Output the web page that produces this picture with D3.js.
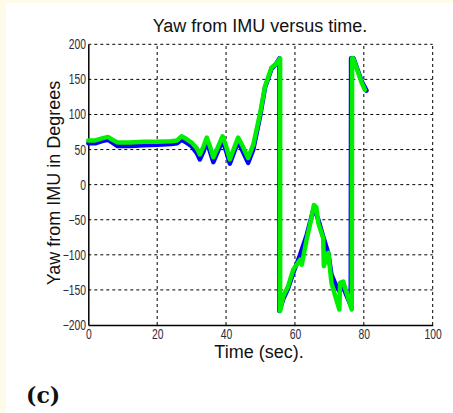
<!DOCTYPE html>
<html><head><meta charset="utf-8">
<script src="https://cdn.jsdelivr.net/npm/d3@7/dist/d3.min.js"></script>
<style>
html,body{margin:0;padding:0;background:#fffbea;}
svg{display:block;}
</style></head>
<body>
<svg id="c" width="453" height="413"></svg>
<script>
const title = "Yaw from IMU versus time.";
const xLabel = "Time (sec).";
const yLabel = "Yaw from IMU in Degrees";
const xTicks = [0, 20, 40, 60, 80, 100];
const yTicks = [-200, -150, -100, -50, 0, 50, 100, 150, 200];

const timeGreen = [0, 2, 4, 5.7, 7, 8.5, 12, 16, 20, 24, 25.8, 27.1, 28.5, 30, 31.5, 32.4, 33.5, 34.4, 35.3, 36.3, 37.5, 39, 40, 41.1, 42.3, 43.5, 44.8, 46.4, 47.9, 49.9, 51.3, 53.2, 54.5, 55.7, 55.7, 56.6, 58, 59.5, 61.5, 62, 63.4, 64.9, 65.5, 66.2, 66.8, 68.2, 68.4, 69.7, 70.6, 71.6, 72.9, 73.1, 74, 75, 76.5, 76.6, 76.9, 78.4, 79.4, 80.3];
const yawGreen = [63, 63, 66, 68, 64, 60, 60, 61, 61, 62, 63, 69, 65, 60, 52, 43, 55, 67, 55, 39, 52, 69, 55, 36, 52, 67, 55, 38, 57, 102, 140, 167, 172, 180, -180, -159, -145, -121, -107, -114, -78, -45, -29, -32, -55, -76, -116, -97, -140, -157, -178, -140, -138, -154, -178, 180, 180, 159, 145, 135];

const timeBlue = [0, 2, 4, 5.7, 7, 8.5, 12, 16, 20, 24, 25.8, 27.1, 28.5, 30, 31.5, 32.4, 33.5, 34.4, 35.3, 36.3, 37.5, 39, 40, 41.1, 42.3, 43.5, 44.8, 46.4, 47.9, 49.9, 51.3, 53.2, 54.5, 55.5, 55.5, 56.6, 58, 59.5, 61.5, 63.4, 64.9, 65.5, 66.8, 68.2, 69.7, 70.6, 71.6, 72.9, 74, 75, 76.2, 76.3, 77, 78.4, 79.4, 80.8];
const yawBlue = [59, 59, 62, 64, 60, 55, 55, 56, 57, 58, 59, 64, 60, 55, 45, 36, 48, 61, 48, 32, 46, 63, 48, 30, 46, 61, 48, 31, 50, 98, 138, 165, 172, 180, -180, -163, -148, -126, -100, -72, -44, -33, -50, -74, -98, -128, -140, -152, -146, -158, -172, 180, 180, 161, 147, 134];

const svg = d3.select("#c");
svg.append("rect").attr("x", 6).attr("y", 3).attr("width", 453).attr("height", 413).attr("fill", "#ffffff");

const L = 88.3, R = 432.7, T = 44.3, B = 325;
const x = d3.scaleLinear().domain([0, 100]).range([L, R]);
const y = d3.scaleLinear().domain([-200, 200]).range([B, T]);

const tickFont = "'Liberation Sans',Arial,sans-serif";

const g = svg.append("g");
g.selectAll("line.gx").data(xTicks.slice(1)).join("line")
  .attr("x1", d => x(d)).attr("x2", d => x(d)).attr("y1", B).attr("y2", T)
  .attr("stroke", "#000").attr("stroke-width", 1).attr("stroke-dasharray", "3,3");
g.selectAll("line.gy").data(yTicks.slice(1)).join("line")
  .attr("y1", d => y(d)).attr("y2", d => y(d)).attr("x1", L).attr("x2", R)
  .attr("stroke", "#000").attr("stroke-width", 1).attr("stroke-dasharray", "3,3");

const xAxis = d3.axisBottom(x).tickValues(xTicks).tickSize(0).tickPadding(4);
const yAxis = d3.axisLeft(y).tickValues(yTicks).tickSize(0).tickPadding(3);
const gx = svg.append("g").attr("transform", `translate(0,${B})`).call(xAxis);
const gy = svg.append("g").attr("transform", `translate(${L},0)`).call(yAxis);
[gx, gy].forEach(a => {
  a.select(".domain").attr("stroke", "#000").attr("stroke-width", 1.5);
  a.selectAll("text").attr("font-family", tickFont).attr("font-size", 14).attr("fill", "#2b2b3a")
    .attr("transform", "scale(0.74,1)");
});

const line = d3.line().x(d => x(d[0])).y(d => y(d[1]));
svg.append("path").datum(d3.zip(timeBlue, yawBlue)).attr("d", line)
  .attr("fill", "none").attr("stroke", "#0000ff").attr("stroke-width", 4.5)
  .attr("stroke-linejoin", "round").attr("stroke-linecap", "round");
svg.append("path").datum(d3.zip(timeGreen, yawGreen)).attr("d", line)
  .attr("fill", "none").attr("stroke", "#00ee00").attr("stroke-width", 4.5)
  .attr("stroke-linejoin", "round").attr("stroke-linecap", "round");

const font = "'Liberation Sans',Arial,sans-serif";
svg.append("text").attr("x", 260).attr("y", 32).attr("text-anchor", "middle")
  .attr("font-family", font).attr("font-size", 18).attr("fill", "#111").text(title);
svg.append("text").attr("x", 259).attr("y", 358).attr("text-anchor", "middle")
  .attr("font-family", font).attr("font-size", 18).attr("fill", "#111").text(xLabel);
svg.append("text").attr("transform", "translate(60,183) rotate(-90)").attr("text-anchor", "middle")
  .attr("font-family", font).attr("font-size", 18).attr("fill", "#111").text(yLabel);
svg.append("text").attr("x", 26).attr("y", 403)
  .attr("font-family", "'DejaVu Serif',serif").attr("font-weight", "bold").attr("font-size", 22)
  .attr("fill", "#111").text("(c)");
</script>
</body></html>
